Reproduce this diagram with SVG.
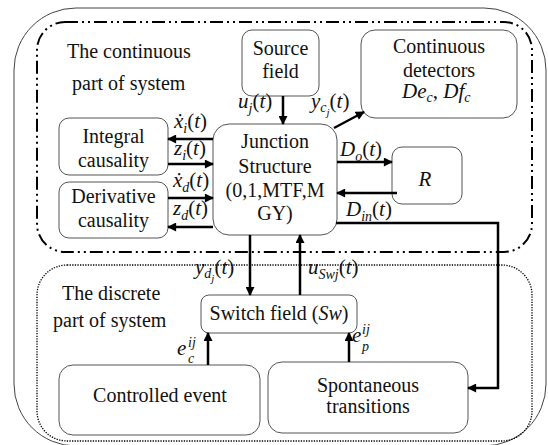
<svg xmlns="http://www.w3.org/2000/svg" width="548" height="445" viewBox="0 0 548 445">
<style>
text{font-family:'Liberation Serif','Times New Roman',Tinos,'DejaVu Serif',serif}
.t{font-size:20px;fill:#111}
.c{text-anchor:middle}
.m{font-style:italic;font-size:21px;fill:#111}
.u{font-style:normal}
.s{font-size:14px}
.ss{font-size:11px}
.box{fill:#fff;stroke:#555;stroke-width:1}
.ar{fill:none;stroke:#000;stroke-width:2.5;marker-end:url(#ah)}
</style>
<defs>
<marker id="ah" viewBox="0 0 10 10" refX="9" refY="5" markerWidth="4" markerHeight="3.6" orient="auto" markerUnits="strokeWidth">
<path d="M0,0 L10,5 L0,10 z" fill="#000"/>
</marker>
</defs>
<rect width="548" height="445" fill="#fff"/>
<g id="frame">
<rect x="14" y="8" width="532" height="438" rx="62" fill="none" stroke="#444" stroke-width="1"/>
</g>
<g id="continuous-part" font-family="'Liberation Serif', serif">
<rect x="37" y="22" width="495" height="230" rx="28" fill="none" stroke="#000" stroke-width="2" stroke-dasharray="13 4 2 4 2 4"/>
<text class="t" x="67" y="58">The continuous</text>
<text class="t" x="72" y="90">part of system</text>
</g>
<g id="discrete-part">
<rect x="37" y="265" width="495" height="176" rx="30" fill="none" stroke="#000" stroke-width="1.3" stroke-dasharray="1.3 1.3"/>
<text class="t" x="62" y="300">The discrete</text>
<text class="t" x="53" y="327">part of system</text>
</g>
<g id="source-field">
<rect class="box" x="242" y="30" width="77" height="66" rx="10"/>
<text class="t c" x="280.5" y="55">Source</text>
<text class="t c" x="280.5" y="78">field</text>
</g>
<g id="continuous-detectors">
<rect class="box" x="361" y="30" width="156" height="88" rx="14"/>
<text class="t c" x="439" y="53">Continuous</text>
<text class="t c" x="439" y="77">detectors</text>
<text class="m" x="402" y="98">De<tspan class="s" dy="4">c</tspan><tspan class="u" dy="-4">, </tspan>Df<tspan class="s" dy="4">c</tspan></text>
</g>
<g id="integral-causality">
<rect class="box" x="59" y="118" width="109" height="57" rx="10"/>
<text class="t c" x="113.5" y="143">Integral</text>
<text class="t c" x="113.5" y="167">causality</text>
</g>
<g id="derivative-causality">
<rect class="box" x="59" y="182" width="109" height="56" rx="10"/>
<text class="t c" x="113.5" y="203">Derivative</text>
<text class="t c" x="113.5" y="227">causality</text>
</g>
<g id="junction-structure">
<rect class="box" x="213" y="124" width="124" height="111" rx="16"/>
<text class="t c" x="275" y="148">Junction</text>
<text class="t c" x="275" y="173">Structure</text>
<text class="t c" x="275" y="197">(0,1,MTF,M</text>
<text class="t c" x="275" y="220">GY)</text>
</g>
<g id="r-element">
<rect class="box" x="392" y="147" width="70" height="57" rx="10"/>
<text class="m c" x="425" y="186">R</text>
</g>
<g id="switch-field">
<rect class="box" x="201" y="295" width="156" height="38" rx="8"/>
<text class="t c" x="279" y="320">Switch field (<tspan font-style="italic">Sw</tspan>)</text>
</g>
<g id="controlled-event">
<rect class="box" x="59" y="365" width="201" height="70" rx="14"/>
<text class="t c" x="160" y="402">Controlled event</text>
</g>
<g id="spontaneous-transitions">
<rect class="box" x="268" y="362" width="200" height="71" rx="14"/>
<text class="t c" x="368" y="392">Spontaneous</text>
<text class="t c" x="368" y="413">transitions</text>
</g>
<g id="connectors">
<line class="ar" x1="283" y1="96" x2="283" y2="124"/>
<line class="ar" x1="334" y1="128" x2="364" y2="112"/>
<line class="ar" x1="213" y1="139" x2="168" y2="139"/>
<line class="ar" x1="168" y1="164" x2="213" y2="164"/>
<line class="ar" x1="168" y1="198" x2="213" y2="198"/>
<line class="ar" x1="213" y1="227" x2="168" y2="227"/>
<line class="ar" x1="337" y1="162" x2="392" y2="162"/>
<line class="ar" x1="397" y1="193" x2="337" y2="193"/>
<polyline class="ar" points="336,223 498,223 498,388 468,388"/>
<line class="ar" x1="250" y1="235" x2="250" y2="295"/>
<line class="ar" x1="300" y1="295" x2="300" y2="235"/>
<line class="ar" x1="208" y1="365" x2="208" y2="333"/>
<line class="ar" x1="349" y1="362" x2="349" y2="333"/>
</g>
<g id="labels">
<text class="m" x="238" y="108">u<tspan class="s" dy="5">j</tspan><tspan class="u" dy="-5">(</tspan>t<tspan class="u">)</tspan></text>
<text class="m" x="311" y="108">y<tspan class="s" dy="4">c</tspan><tspan class="ss" dy="4">j</tspan><tspan class="u" dy="-8">(</tspan>t<tspan class="u">)</tspan></text>
<text class="m" x="174" y="128">ẋ<tspan class="s" dy="5">i</tspan><tspan class="u" dy="-5">(</tspan>t<tspan class="u">)</tspan></text>
<text class="m" x="174" y="155">z<tspan class="s" dy="5">i</tspan><tspan class="u" dy="-5">(</tspan>t<tspan class="u">)</tspan></text>
<text class="m" x="173" y="187">ẋ<tspan class="s" dy="5">d</tspan><tspan class="u" dy="-5">(</tspan>t<tspan class="u">)</tspan></text>
<text class="m" x="173" y="215">z<tspan class="s" dy="5">d</tspan><tspan class="u" dy="-5">(</tspan>t<tspan class="u">)</tspan></text>
<text class="m" x="340" y="156">D<tspan class="s" dy="5">o</tspan><tspan class="u" dy="-5">(</tspan>t<tspan class="u">)</tspan></text>
<text class="m" x="346" y="216">D<tspan class="s" dy="5">in</tspan><tspan class="u" dy="-5">(</tspan>t<tspan class="u">)</tspan></text>
<text class="m" x="195" y="274">y<tspan class="s" dy="4">d</tspan><tspan class="ss" dy="4">j</tspan><tspan class="u" dy="-8">(</tspan>t<tspan class="u">)</tspan></text>
<text class="m" x="308" y="274">u<tspan class="s" dy="5">Swj</tspan><tspan class="u" dy="-5">(</tspan>t<tspan class="u">)</tspan></text>
<text class="m" x="177" y="355">e</text>
<text class="m s" x="188" y="347">ij</text>
<text class="m s" x="188" y="363">c</text>
<text class="m" x="352" y="342">e</text>
<text class="m s" x="362" y="334">ij</text>
<text class="m s" x="362" y="351">p</text>
</g>
</svg>
